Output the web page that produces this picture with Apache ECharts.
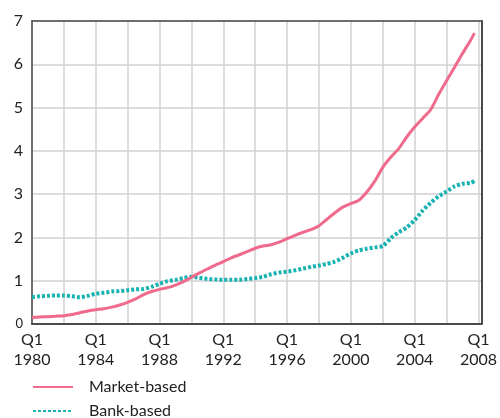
<!DOCTYPE html>
<html>
<head>
<meta charset="utf-8">
<script src="https://cdn.jsdelivr.net/npm/echarts@6/dist/echarts.min.js"></script>
<style>
  html, body { margin: 0; padding: 0; background: #fff; }
  #chart { width: 500px; height: 418px; }
</style>
</head>
<body>
<div id="chart"></div>
<script>
// half-yearly points, as decimal years
const periods = [
  1980, 1980.5, 1981, 1981.5, 1982, 1982.5, 1983, 1983.5, 1984, 1984.5,
  1985, 1985.5, 1986, 1986.5, 1987, 1987.5, 1988, 1988.5, 1989, 1989.5,
  1990, 1990.5, 1991, 1991.5, 1992, 1992.5, 1993, 1993.5, 1994, 1994.5,
  1995, 1995.5, 1996, 1996.5, 1997, 1997.5, 1998, 1998.5, 1999, 1999.5,
  2000, 2000.5, 2001, 2001.5, 2002, 2002.5, 2003, 2003.5, 2004, 2004.5,
  2005, 2005.5, 2006, 2006.5, 2007, 2007.5, 2007.75
]
const marketBased = [
  0.15, 0.16, 0.17, 0.18, 0.19, 0.22, 0.26, 0.30, 0.33, 0.35,
  0.39, 0.44, 0.50, 0.58, 0.68, 0.75, 0.80, 0.84, 0.90, 0.98,
  1.08, 1.18, 1.27, 1.36, 1.44, 1.53, 1.60, 1.67, 1.75, 1.80,
  1.83, 1.89, 1.97, 2.05, 2.12, 2.18, 2.27, 2.42, 2.57, 2.70,
  2.78, 2.86, 3.05, 3.30, 3.62, 3.85, 4.05, 4.32, 4.55, 4.75,
  4.95, 5.30, 5.62, 5.93, 6.25, 6.55, 6.72
]
const bankBased = [
  0.62, 0.64, 0.65, 0.66, 0.66, 0.64, 0.62, 0.65, 0.70, 0.72,
  0.75, 0.76, 0.78, 0.80, 0.81, 0.86, 0.93, 0.99, 1.02, 1.06,
  1.09, 1.07, 1.04, 1.03, 1.02, 1.02, 1.02, 1.04, 1.06, 1.09,
  1.15, 1.19, 1.21, 1.24, 1.28, 1.32, 1.35, 1.39, 1.44, 1.53,
  1.63, 1.70, 1.74, 1.77, 1.80, 1.98, 2.12, 2.23, 2.40, 2.62,
  2.80, 2.95, 3.06, 3.18, 3.24, 3.26, 3.30
]
const seriesNames = ['Market-based', 'Bank-based']
const xTickYears = [1980, 1984, 1988, 1992, 1996, 2000, 2004, 2008]

const font = 'Lato, "DejaVu Sans", sans-serif'
const axisDark = '#4a4a4a'
const gridGrey = '#d0d0d0'

let chart = echarts.init(document.getElementById('chart'))

chart.setOption({
  animation: false,
  grid: { left: 32, right: 15, top: 21, bottom: 94, containLabel: false },
  legend: {
    type: 'plain',
    orient: 'vertical',
    left: 32,
    top: 379,
    width: 300,
    height: 100,
    padding: 0,
    itemWidth: 40,
    itemHeight: 14,
    itemGap: 8,
    data: seriesNames,
    itemStyle: { opacity: 0 },
    textStyle: { fontFamily: font, fontSize: 16, color: '#222', padding: [0, 0, 0, 11] }
  },
  xAxis: [{
    type: 'value',
    min: 1980,
    max: 2008.19,
    interval: 2,
    axisLine: { show: true, lineStyle: { color: axisDark, width: 2 } },
    axisTick: { show: false },
    splitLine: { show: true, lineStyle: { color: gridGrey, width: 1.5 } },
    axisLabel: {
      margin: 6,
      fontFamily: font,
      fontSize: 16,
      color: '#222',
      lineHeight: 20,
      showMaxLabel: false,
      formatter: (v) => xTickYears.indexOf(v) >= 0 ? 'Q1\n' + v : ''
    }
  }, {
    type: 'value',
    position: 'top',
    min: 1980,
    max: 2008.19,
    axisLine: { show: true, onZero: false, lineStyle: { color: axisDark, width: 1.5 } },
    axisTick: { show: false },
    axisLabel: { show: false },
    splitLine: { show: false }
  }],
  yAxis: [{
    type: 'value',
    min: 0,
    max: 7,
    interval: 1,
    axisLine: { show: true, lineStyle: { color: axisDark, width: 1.5 } },
    axisTick: { show: false },
    splitLine: { show: true, lineStyle: { color: gridGrey, width: 1.5 } },
    axisLabel: {
      margin: 9,
      fontFamily: font,
      fontSize: 16,
      color: '#222',
      formatter: (v) => v === 0 ? '{z|0}' : String(v),
      rich: { z: { fontFamily: font, fontSize: 13, color: '#222' } }
    }
  }, {
    type: 'value',
    position: 'right',
    min: 0,
    max: 7,
    axisLine: { show: true, onZero: false, lineStyle: { color: axisDark, width: 2 } },
    axisTick: { show: false },
    axisLabel: { show: false },
    splitLine: { show: false }
  }],
  series: [{
    name: seriesNames[0],
    type: 'line',
    showSymbol: false,
    symbol: 'none',
    smooth: 0.2,
    color: '#f06a8c',
    lineStyle: { color: '#f06a8c', width: 3 },
    data: periods.map((p, i) => [p, marketBased[i]]),
    z: 3
  }, {
    name: seriesNames[1],
    type: 'line',
    showSymbol: false,
    symbol: 'none',
    smooth: 0.2,
    color: '#17b2b2',
    lineStyle: { color: '#17b2b2', width: 4, type: [3, 2] },
    data: periods.map((p, i) => [p, bankBased[i]]),
    z: 2
  }]
})
</script>
</body>
</html>
